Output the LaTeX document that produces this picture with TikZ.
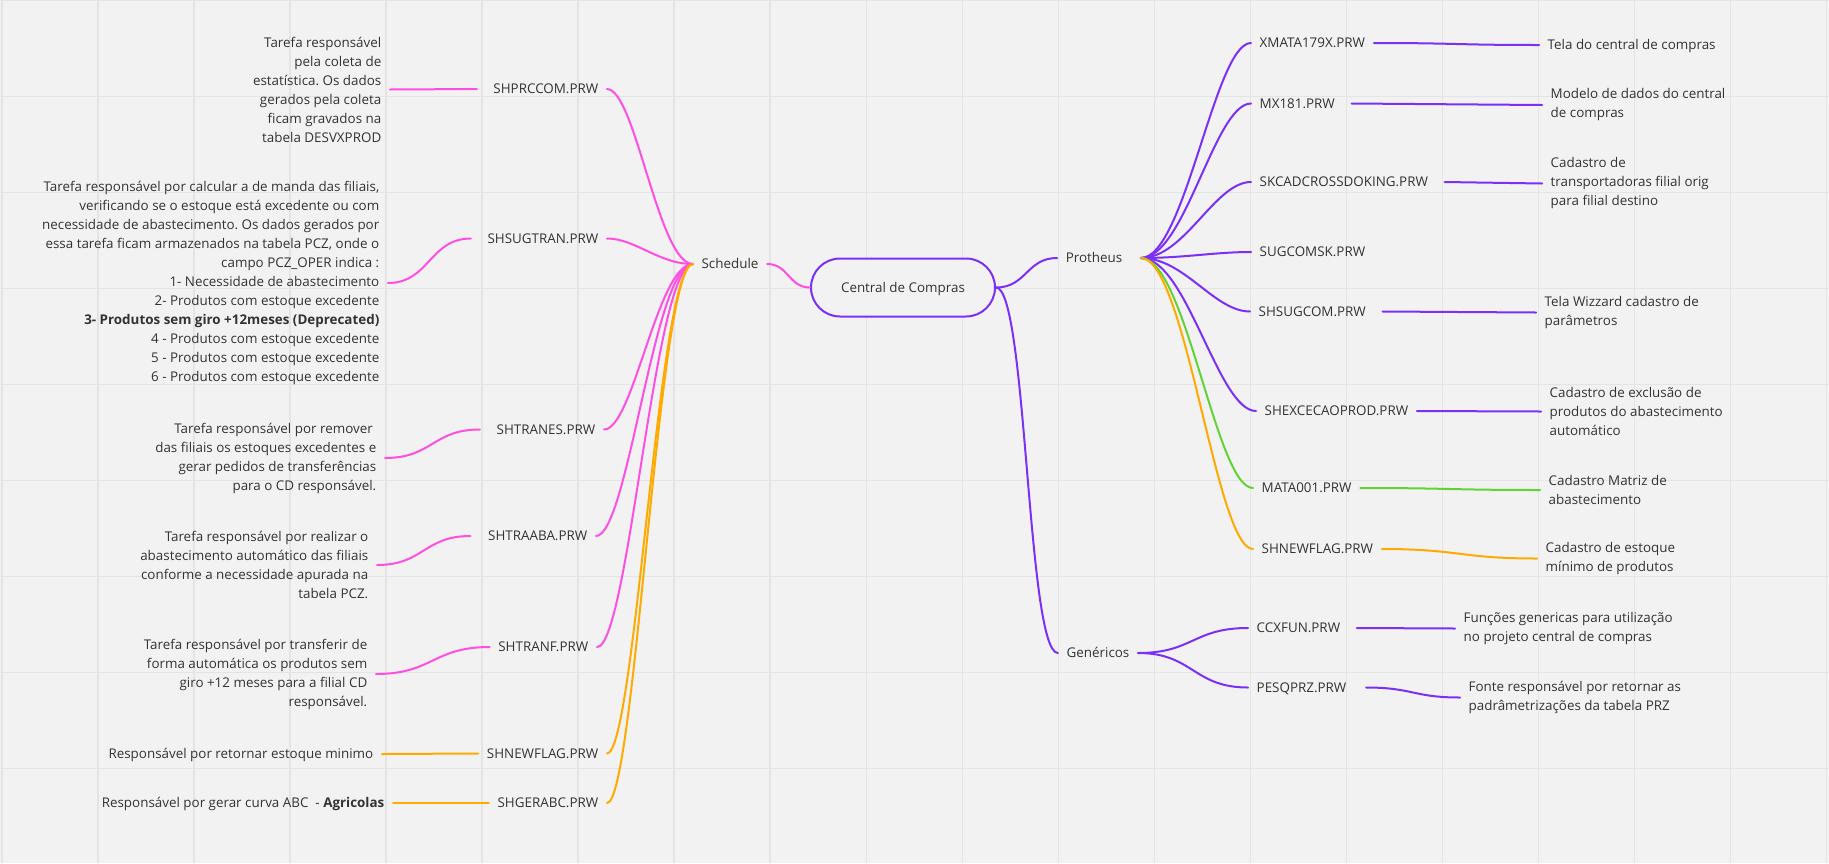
\documentclass[tikz,border=0pt]{standalone}
\usepackage{fontspec}
\setmainfont{Open Sans}
\frenchspacing
\usetikzlibrary{calc}
\definecolor{bgc}{HTML}{F2F2F2}
\definecolor{gridc}{HTML}{E4E4E4}
\definecolor{mag}{HTML}{FF4FE3}
\definecolor{vio}{HTML}{7B2FF7}
\definecolor{grn}{HTML}{62D335}
\definecolor{org}{HTML}{FFAA00}
\definecolor{txt}{HTML}{333333}
\begin{document}
\begin{tikzpicture}[x=1pt,y=-1pt,
  every node/.style={font=\fontsize{13.4}{19}\selectfont, text=txt},
  lbl/.style={inner xsep=8.5pt, inner ysep=0pt, text height=9.6pt, text depth=0pt},
  dsc/.style={inner xsep=8.5pt, inner ysep=0pt},
  dscR/.style={dsc, anchor=east, align=right},
  dscL/.style={dsc, anchor=west, align=left},
  conn/.style={line width=2pt, line cap=round},
  scurv/.style={to path={let \p1=(\tikztostart), \p2=(\tikztotarget) in
     .. controls ({0.5*\x1+0.5*\x2},\y1) and ({0.5*\x1+0.5*\x2},\y2) .. (\tikztotarget)}},
  fanc/.style={to path={let \p1=(\tikztostart), \p2=(\tikztotarget) in
     .. controls ({\x1+0.4*(\x2-\x1)},\y1) and ({\x2-0.33*(\x2-\x1)},\y2) .. (\tikztotarget)}},
]
\useasboundingbox (0,0) rectangle (1829,863);
\fill[bgc] (0,0) rectangle (1829,863);
\foreach \i in {0,...,19} \draw[gridc, line width=1.5pt] ({2+96.03*\i},0) -- ({2+96.03*\i},863);
\foreach \j in {0,...,8} \draw[gridc, line width=1.5pt] (0,{0.7+96*\j}) -- (1829,{0.7+96*\j});

% central
\node[draw=vio, line width=2pt, fill=bgc, rounded corners=29pt, minimum width=184pt, minimum height=58pt, inner sep=0pt, text height=9.6pt, text depth=0pt] (central) at (903,287.5) {Central de Compras};
\node[lbl] (sched) at (730,264) {Schedule};
\node[lbl] (proth) at (1094,258) {Protheus};
\node[lbl] (gen) at (1098,653) {Genéricos};

% left children
\node[lbl, anchor=east] (prc) at (607,89) {SHPRCCOM.PRW};
\node[lbl, anchor=east] (sugtran) at (607,238.5) {SHSUGTRAN.PRW};
\node[lbl, anchor=east] (tranes) at (604,429.5) {SHTRANES.PRW};
\node[lbl, anchor=east] (traaba) at (596,536) {SHTRAABA.PRW};
\node[lbl, anchor=east] (tranf) at (597,647) {SHTRANF.PRW};
\node[lbl, anchor=east] (nflagA) at (607,753.5) {SHNEWFLAG.PRW};
\node[lbl, anchor=east] (gerabc) at (607,803) {SHGERABC.PRW};

% left descriptions
\node[dscR] (dA) at (390,89.5) {Tarefa responsável\\pela coleta de\\estatística. Os dados\\gerados pela coleta\\ficam gravados na\\tabela DESVXPROD};
\node[dscR] (dB) at (388,283) {Tarefa responsável por calcular a de manda das filiais,\\verificando se o estoque está excedente ou com\\necessidade de abastecimento. Os dados gerados por\\essa tarefa ficam armazenados na tabela PCZ, onde o\\campo PCZ\_OPER indica :\\1- Necessidade de abastecimento\\2- Produtos com estoque excedente\\\textbf{3- Produtos sem giro +12meses (Deprecated)}\\4 - Produtos com estoque excedente\\5 - Produtos com estoque excedente\\6 - Produtos com estoque excedente};
\node[dscR] (dC) at (385,458) {Tarefa responsável por remover\kern3.5pt\\das filiais os estoques excedentes e\\gerar pedidos de transferências\\para o CD responsável.};
\node[dscR] (dD) at (377,565) {Tarefa responsável por realizar o\\abastecimento automático das filiais\\conforme a necessidade apurada na\\tabela PCZ.};
\node[dscR] (dE) at (376,674) {Tarefa responsável por transferir de\\forma automática os produtos sem\\giro +12 meses para a filial CD\\responsável.};
\node[lbl, anchor=east] (dF) at (382,754) {Responsável por retornar estoque minimo};
\node[lbl, anchor=east] (dG) at (393,803) {Responsável por gerar curva ABC\ \ - \textbf{Agricolas}};

% right children
\node[lbl, anchor=west] (xmata) at (1251,43) {XMATA179X.PRW};
\node[lbl, anchor=west] (mx) at (1251,103.5) {MX181.PRW};
\node[lbl, anchor=west] (skcad) at (1251,182) {SKCADCROSSDOKING.PRW};
\node[lbl, anchor=west] (sugsk) at (1251,252) {SUGCOMSK.PRW};
\node[lbl, anchor=west] (shsug) at (1250,311.5) {SHSUGCOM.PRW};
\node[lbl, anchor=west] (shexc) at (1256,411) {SHEXCECAOPROD.PRW};
\node[lbl, anchor=west] (mata) at (1253,488) {MATA001.PRW};
\node[lbl, anchor=west] (nflagB) at (1253,549) {SHNEWFLAG.PRW};
\node[lbl, anchor=west] (ccx) at (1248,628) {CCXFUN.PRW};
\node[lbl, anchor=west] (pesq) at (1248,687.5) {PESQPRZ.PRW};

% right descriptions
\node[lbl, anchor=west] (rA) at (1539,45) {Tela do central de compras};
\node[dscL] (rB) at (1542,105) {Modelo de dados do central\\de compras};
\node[dscL] (rC) at (1542,183.5) {Cadastro de\\transportadoras filial orig\\para filial destino};
\node[dscL] (rD) at (1536,312.5) {Tela Wizzard cadastro de\\parâmetros};
\node[dscL] (rE) at (1541,411.5) {Cadastro de exclusão de\\produtos do abastecimento\\automático};
\node[dscL] (rF) at (1540,490) {Cadastro Matriz de\\abastecimento};
\node[dscL] (rG) at (1537,558.5) {Cadastro de estoque\\mínimo de produtos};
\node[dscL] (rH) at (1455,628.5) {Funções genericas para utilização\\no projeto central de compras};
\node[dscL] (rI) at (1460,697.5) {Fonte responsável por retornar as\\padrâmetrizações da tabela PRZ};

% shifted connection points
\coordinate (prcL) at ([xshift=-8pt]prc.west);
\coordinate (sugtranL) at ([xshift=-8pt]sugtran.west);
\coordinate (tranesL) at ([xshift=-8pt]tranes.west);
\coordinate (traabaL) at ([xshift=-9pt]traaba.west);
\coordinate (mxR) at ([xshift=8pt]mx.east);
\coordinate (skcadR) at ([xshift=8pt]skcad.east);
\coordinate (shsugR) at ([xshift=8pt]shsug.east);
\coordinate (ccxR) at ([xshift=8pt]ccx.east);
\coordinate (pesqR) at ([xshift=11pt]pesq.east);
\coordinate (prothR) at ([xshift=10pt]proth.east);

% main branches
\draw[conn, mag] (central.west) to[scurv] (sched.east);
\draw[conn, vio] (central.east) to[scurv] (proth.west);
\draw[conn, vio] (central.east) to[scurv] (gen.west);

% schedule fan
\draw[conn, mag] (sched.west) to[fanc] (prc.east);
\draw[conn, mag] (sched.west) to[fanc] (sugtran.east);
\draw[conn, mag] (sched.west) to[fanc] (tranes.east);
\draw[conn, mag] (sched.west) to[fanc] (traaba.east);
\draw[conn, mag] (sched.west) to[fanc] (tranf.east);
\draw[conn, org] (sched.west) to[fanc] (nflagA.east);
\draw[conn, org] (sched.west) to[fanc] (gerabc.east);

% left description links
\draw[conn, mag] (dA.east) to[scurv] (prcL);
\draw[conn, mag] (dB.east) to[scurv] (sugtranL);
\draw[conn, mag] (dC.east) to[scurv] (tranesL);
\draw[conn, mag] (dD.east) to[scurv] (traabaL);
\draw[conn, mag] (dE.east) to[scurv] (tranf.west);
\draw[conn, org] (dF.east) to[scurv] (nflagA.west);
\draw[conn, org] (dG.east) to[scurv] (gerabc.west);

% protheus fan
\draw[conn, vio] (prothR) to[fanc] (xmata.west);
\draw[conn, vio] (prothR) to[fanc] (mx.west);
\draw[conn, vio] (prothR) to[fanc] (skcad.west);
\draw[conn, vio] (prothR) to[fanc] (sugsk.west);
\draw[conn, vio] (prothR) to[fanc] (shsug.west);
\draw[conn, vio] (prothR) to[fanc] (shexc.west);
\draw[conn, grn] (prothR) to[fanc] (mata.west);
\draw[conn, org] (prothR) to[fanc] (nflagB.west);

% right description links
\draw[conn, vio] (xmata.east) to[scurv] (rA.west);
\draw[conn, vio] (mxR) to[scurv] (rB.west);
\draw[conn, vio] (skcadR) to[scurv] (rC.west);
\draw[conn, vio] (shsugR) to[scurv] (rD.west);
\draw[conn, vio] (shexc.east) to[scurv] (rE.west);
\draw[conn, grn] (mata.east) to[scurv] (rF.west);
\draw[conn, org] (nflagB.east) to[scurv] (rG.west);

% genericos
\draw[conn, vio] (gen.east) to[scurv] (ccx.west);
\draw[conn, vio] (gen.east) to[scurv] (pesq.west);
\draw[conn, vio] (ccxR) to[scurv] (rH.west);
\draw[conn, vio] (pesqR) to[scurv] (rI.west);
\end{tikzpicture}
\end{document}
